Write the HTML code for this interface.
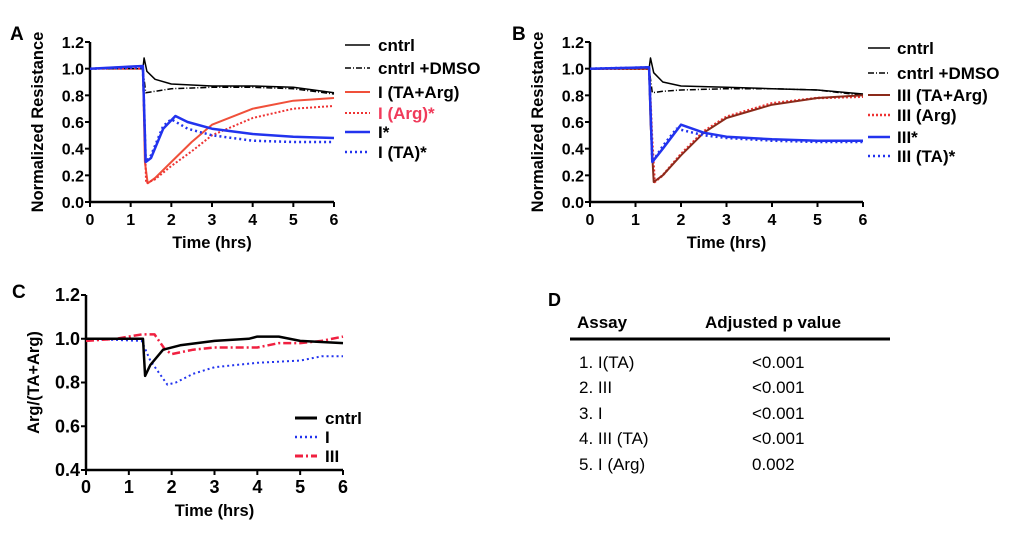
<!DOCTYPE html>
<html><head><meta charset="utf-8"><style>
body{margin:0;background:#fff;width:1024px;height:535px;overflow:hidden;font-family:"Liberation Sans",Arial,sans-serif}
svg text{font-family:"Liberation Sans",Arial,sans-serif}
</style></head><body>
<svg id="fig" width="1024" height="535" viewBox="0 0 1024 535">
<g id="pA"></g>
<g id="pB"></g>
<g id="pC"></g>
<g id="pD">
<text x="548" y="306" font-size="18" font-weight="bold">D</text>
<text x="577" y="328" font-size="17" font-weight="bold">Assay</text>
<text x="705" y="328" font-size="17" font-weight="bold">Adjusted p value</text>
<line x1="570" y1="339" x2="890" y2="339" stroke="#000" stroke-width="3"/>
<text x="579" y="368" font-size="17">1. I(TA)</text><text x="752" y="368" font-size="17">&lt;0.001</text>
<text x="579" y="393" font-size="17">2. III</text><text x="752" y="393" font-size="17">&lt;0.001</text>
<text x="579" y="419" font-size="17">3. I</text><text x="752" y="419" font-size="17">&lt;0.001</text>
<text x="579" y="444" font-size="17">4. III (TA)</text><text x="752" y="444" font-size="17">&lt;0.001</text>
<text x="579" y="470" font-size="17">5. I (Arg)</text><text x="752" y="470" font-size="17">0.002</text>
</g>
</svg>
<script>
// ---- data ----
const xTicks=[0,1,2,3,4,5,6];
const yTicksAB=[0,0.2,0.4,0.6,0.8,1.0,1.2];
const yTicksC=[0.4,0.6,0.8,1.0,1.2];
const tA_cntrl=[0,1.3,1.33,1.4,1.6,2,3,4,5,6];
const vA_cntrl=[1,1.0,1.08,0.98,0.92,0.885,0.87,0.87,0.86,0.82];
const tA_dmso=[0,1.3,1.37,1.6,2,3,4,5,6];
const vA_dmso=[1,1.0,0.82,0.83,0.85,0.86,0.86,0.85,0.81];
const tA_taarg=[0,1.3,1.35,1.42,1.6,2,2.5,3,4,5,6];
const vA_taarg=[1,1.02,0.3,0.14,0.18,0.3,0.45,0.58,0.7,0.76,0.78];
const tA_arg=[0,1.3,1.38,1.6,2,2.5,3,4,5,6];
const vA_arg=[1,1.0,0.14,0.17,0.27,0.38,0.5,0.63,0.7,0.72];
const tA_i=[0,1.3,1.37,1.5,1.8,2.1,2.4,3,4,5,6];
const vA_i=[1,1.02,0.3,0.33,0.55,0.645,0.6,0.55,0.51,0.49,0.48];
const tA_ta=[0,1.3,1.37,1.5,1.8,2.0,2.4,3,4,5,6];
const vA_ta=[1,1.01,0.3,0.35,0.57,0.62,0.55,0.5,0.46,0.45,0.45];
const tB_cntrl=[0,1.3,1.33,1.4,1.6,2,3,4,5,6];
const vB_cntrl=[1,1.0,1.08,0.97,0.9,0.87,0.86,0.85,0.84,0.81];
const tB_dmso=[0,1.3,1.37,1.6,2,3,4,5,6];
const vB_dmso=[1,1.0,0.82,0.83,0.84,0.85,0.85,0.84,0.8];
const tB_taarg=[0,1.3,1.33,1.4,1.6,2,2.5,3,4,5,6];
const vB_taarg=[1,1.0,0.6,0.15,0.2,0.35,0.52,0.63,0.73,0.78,0.8];
const tB_arg=[0,1.3,1.36,1.42,1.6,2,2.5,3,4,5,6];
const vB_arg=[1,1.0,0.5,0.15,0.2,0.36,0.53,0.64,0.74,0.78,0.79];
const tB_iii=[0,1.3,1.37,1.6,2,2.5,3,4,5,6];
const vB_iii=[1,1.01,0.3,0.4,0.58,0.52,0.49,0.47,0.46,0.46];
const tB_ta=[0,1.3,1.37,1.6,1.9,2.5,3,4,5,6];
const vB_ta=[1,1.01,0.3,0.42,0.55,0.5,0.48,0.46,0.45,0.45];
const tC_cntrl=[0,1.33,1.38,1.5,1.8,2.2,3,3.8,4,4.5,5,6];
const vC_cntrl=[1,1.0,0.83,0.88,0.95,0.97,0.99,1.0,1.01,1.01,0.99,0.98];
const tC_i=[0,1.3,1.5,1.9,2.1,2.5,3,4,5,5.5,6];
const vC_i=[1,0.99,0.9,0.79,0.8,0.84,0.87,0.89,0.9,0.92,0.92];
const tC_iii=[0,0.7,1.3,1.6,1.85,2,2.5,3,4,4.5,5,5.5,6];
const vC_iii=[0.99,1.0,1.02,1.02,0.95,0.93,0.95,0.96,0.96,0.98,0.98,0.99,1.01];

const NS='http://www.w3.org/2000/svg';
function mk(g,tag,at){const e=document.createElementNS(NS,tag);for(const k in at)e.setAttribute(k,at[k]);g.appendChild(e);return e;}
function axes(g,x0,x1,y0,y1,ymin,ymax,yt,ytitle,label,lx,ly,tfs){
  const sx=v=>x0+(v-0)/6*(x1-x0), sy=v=>y0-(v-ymin)/(ymax-ymin)*(y0-y1);
  const l=mk(g,'text',{x:lx,y:ly,'font-size':19,'font-weight':'bold'});l.textContent=label;
  
  
  const ya=mk(g,'line',{x1:x0,y1:y1,x2:x0,y2:y0,stroke:'#000','stroke-width':2.5});
  
  
  const xa=mk(g,'line',{x1:x0,y1:y0,x2:x1,y2:y0,stroke:'#000','stroke-width':2.5});
  
  
  yt.forEach(v=>{mk(g,'line',{x1:x0-5,x2:x0,y1:sy(v),y2:sy(v),stroke:'#000','stroke-width':2});
    const t=mk(g,'text',{x:x0-6,y:sy(v)+6,'font-size':tfs,'font-weight':'bold','text-anchor':'end'});t.textContent=v.toFixed(1);
    
    });
  xTicks.forEach(v=>{mk(g,'line',{x1:sx(v),x2:sx(v),y1:y0,y2:y0+5,stroke:'#000','stroke-width':2});
    const t=mk(g,'text',{x:sx(v),y:y0+23,'font-size':tfs,'font-weight':'bold','text-anchor':'middle'});t.textContent=v;
    
    });
  const xt=mk(g,'text',{x:(x0+x1)/2,y:y0+46,'font-size':16.5,'font-weight':'bold','text-anchor':'middle'});xt.textContent='Time (hrs)';
  
  
  const cy=(y0+y1)/2;
  const yl=mk(g,'text',{x:0,y:0,'font-size':16.5,'font-weight':'bold','text-anchor':'middle',transform:`translate(${x0-47},${cy}) rotate(-90)`});yl.textContent=ytitle;
  
  
  return [sx,sy];
}
function series(g,s,t,v,col,w,dash,name){
  const d=t.map((x,i)=>(i?'L':'M')+s[0](x).toFixed(1)+','+s[1](v[i]).toFixed(1)).join('');
  const p=mk(g,'path',{d:d,fill:'none',stroke:col,'stroke-width':w,'stroke-dasharray':dash||'none','stroke-linejoin':'round'});
  
  
}
function legend(g,x,y,col,w,dash,text,tcol,len,gap,name){
  mk(g,'line',{x1:x,x2:x+len,y1:y,y2:y,stroke:col,'stroke-width':w,'stroke-dasharray':dash||'none'});
  const t=mk(g,'text',{x:x+len+gap,y:y+6,'font-size':17,'font-weight':'bold',fill:tcol||'#000'});t.textContent=text;
  
  
}
const RED='#f0503a',BLUE='#2233ee',BR='#8b2a1a';
// Panel A
const gA=document.getElementById('pA');
const sA=axes(gA,90,334,202,42,0,1.2,yTicksAB,'Normalized Resistance','A',10,40,16);
series(gA,sA,tA_cntrl,vA_cntrl,'#000',1.5,null,'series-cntrl');
series(gA,sA,tA_dmso,vA_dmso,'#000',1.5,'6,2,1,2','series-cntrl-dmso');
series(gA,sA,tA_taarg,vA_taarg,RED,2,null,'series-i-ta-arg');
series(gA,sA,tA_arg,vA_arg,'#e33',2,'2,2','series-i-arg');
series(gA,sA,tA_i,vA_i,BLUE,2.5,null,'series-i');
series(gA,sA,tA_ta,vA_ta,BLUE,2.5,'2,3','series-i-ta');
legend(gA,345,45,'#000',1.5,null,'cntrl',null,25,8,'legend-cntrl');
legend(gA,345,68,'#000',1.5,'6,2,1,2','cntrl +DMSO',null,25,8,'legend-cntrl-dmso');
legend(gA,345,92,RED,2,null,'I (TA+Arg)',null,25,8,'legend-i-ta-arg');
legend(gA,345,113,'#e33',2,'2,2','I (Arg)*','#f03a5a',25,8,'legend-i-arg');
legend(gA,345,132,BLUE,2.5,null,'I*',null,25,8,'legend-i');
legend(gA,345,152,BLUE,2.5,'2,3','I (TA)*',null,25,8,'legend-i-ta');
// Panel B
const gB=document.getElementById('pB');
const sB=axes(gB,590,863,202,42,0,1.2,yTicksAB,'Normalized Resistance','B',512,40,16);
series(gB,sB,tB_cntrl,vB_cntrl,'#000',1.5,null,'series-cntrl');
series(gB,sB,tB_dmso,vB_dmso,'#000',1.5,'6,2,1,2','series-cntrl-dmso');
series(gB,sB,tB_arg,vB_arg,'#e33',2.5,'2,2','series-iii-arg');
series(gB,sB,tB_taarg,vB_taarg,BR,2,null,'series-iii-ta-arg');
series(gB,sB,tB_iii,vB_iii,BLUE,2.5,null,'series-iii');
series(gB,sB,tB_ta,vB_ta,BLUE,2.5,'2,3','series-iii-ta');
legend(gB,868,48,'#000',1.5,null,'cntrl',null,22,7,'legend-cntrl');
legend(gB,868,73,'#000',1.5,'6,2,1,2','cntrl +DMSO',null,22,7,'legend-cntrl-dmso');
legend(gB,868,95,BR,2,null,'III (TA+Arg)',null,22,7,'legend-iii-ta-arg');
legend(gB,868,115,'#e33',2.5,'2,2','III (Arg)',null,22,7,'legend-iii-arg');
legend(gB,868,137,BLUE,2.5,null,'III*',null,22,7,'legend-iii');
legend(gB,868,156,BLUE,2.5,'2,3','III (TA)*',null,22,7,'legend-iii-ta');
// Panel C
const gC=document.getElementById('pC');
const sC=axes(gC,86,343,470,295,0.4,1.2,yTicksC,'Arg/(TA+Arg)','C',12,298,18);
series(gC,sC,tC_i,vC_i,BLUE,2,'2,3','series-i');
series(gC,sC,tC_iii,vC_iii,'#f02040',2.5,'8,3,2,3','series-iii');
series(gC,sC,tC_cntrl,vC_cntrl,'#000',2.5,null,'series-cntrl');
legend(gC,295,418,'#000',3,null,'cntrl',null,22,8,'legend-cntrl');
legend(gC,295,437,BLUE,2.5,'2,3','I',null,22,8,'legend-i');
legend(gC,295,456,'#f02040',3,'8,3,2,3','III',null,22,8,'legend-iii');
</script>
</body></html>
